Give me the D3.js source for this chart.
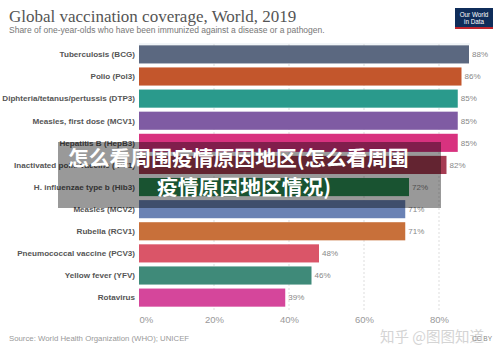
<!DOCTYPE html>
<html>
<head>
<meta charset="utf-8">
<script src="https://cdn.jsdelivr.net/npm/d3@7"></script>
<style>
body{margin:0;background:#fff;}
svg{display:block;}
</style>
</head>
<body>
<div id="chart"></div>
<script>
//data
let vaccines = ["Tuberculosis (BCG)", "Polio (Pol3)", "Diphteria/tetanus/pertussis (DTP3)", "Measles, first dose (MCV1)",
	"Hepatitis B (HepB3)", "Inactivated polio vaccine (IPV1)", "H. influenzae type b (Hib3)", "Measles (MCV2)",
	"Rubella (RCV1)", "Pneumococcal vaccine (PCV3)", "Yellow fever (YFV)", "Rotavirus"];
let coverage = [88, 86, 85, 85, 85, 82, 72, 71, 71, 48, 46, 39];
let barColors = ["#5b6880", "#c3562c", "#2a9a8c", "#7f5ba3", "#d8327f", "#a53c52", "#2a8a52", "#6a82b4",
	"#c8703a", "#da5568", "#3f8a79", "#d5469b"];
let ticks = [0, 20, 40, 60, 80];

function graph(){
	let width = 500, height = 352;
	let margin = {top:44, left:139, bottom:42};

	let svg = d3.select("#chart").append("svg")
		.attr("width", width)
		.attr("height", height);

	//title
	svg.append("text")
		.attr("x", 9).attr("y", 22)
		.attr("font-family", "Liberation Serif, serif")
		.attr("font-size", 17)
		.attr("fill", "#555")
		.text("Global vaccination coverage, World, 2019");
	svg.append("text")
		.attr("x", 9).attr("y", 33)
		.attr("font-family", "Liberation Sans, Arial, sans-serif")
		.attr("font-size", 8.5)
		.attr("fill", "#777")
		.text("Share of one-year-olds who have been immunized against a disease or a pathogen.");

	//logo
	let logo = svg.append("g").attr("transform", "translate(455,8)");
	logo.append("rect").attr("width", 38).attr("height", 21).attr("fill", "#0f2d5a");
	logo.append("rect").attr("y", 19).attr("width", 38).attr("height", 2).attr("fill", "#c0262d");
	logo.selectAll("text").data(["Our World", "in Data"]).enter().append("text")
		.attr("x", 19).attr("y", (d, i) => 8.5 + i * 7)
		.attr("text-anchor", "middle")
		.attr("font-family", "Liberation Sans, Arial, sans-serif")
		.attr("font-size", 6.3)
		.attr("fill", "#fff")
		.text(d => d);

	//scales
	const xScale = d3.scaleLinear()
		.domain([0, 80])
		.range([margin.left, margin.left + 300]);

	const yScale = d3.scaleBand()
		.domain(vaccines)
		.range([margin.top, margin.top + 22 * vaccines.length])
		.paddingInner(0.18)
		.paddingOuter(0.06);

	//grid
	svg.append("line")
		.attr("x1", margin.left).attr("x2", 470)
		.attr("y1", margin.top).attr("y2", margin.top)
		.attr("stroke", "#e4ebf0");
	svg.selectAll(".grid").data(ticks.slice(1)).enter().append("line")
		.attr("class", "grid")
		.attr("x1", d => xScale(d)).attr("x2", d => xScale(d))
		.attr("y1", margin.top).attr("y2", height - margin.bottom)
		.attr("stroke", "#ddd")
		.attr("stroke-dasharray", "2,2");

	//x axis
	const xAxis = d3.axisBottom(xScale)
		.tickValues(ticks)
		.tickFormat(d => d + "%")
		.tickSize(0);
	let ax = svg.append("g")
		.attr("transform", `translate(0,${height - margin.bottom})`)
		.call(xAxis);
	ax.select(".domain").remove();
	ax.selectAll("text")
		.attr("y", 6)
		.attr("font-family", "Liberation Sans, Arial, sans-serif")
		.attr("font-size", 9.5)
		.attr("fill", "#999")
		.attr("text-anchor", d => d === 0 ? "start" : "middle");

	//bars
	let rows = svg.selectAll(".row").data(vaccines).enter().append("g").attr("class", "row");
	rows.append("rect")
		.attr("x", xScale(0))
		.attr("y", d => yScale(d))
		.attr("height", yScale.bandwidth())
		.attr("width", (d, i) => xScale(coverage[i]) - xScale(0))
		.attr("fill", (d, i) => barColors[i]);
	rows.append("text")
		.attr("x", margin.left - 4)
		.attr("y", d => yScale(d) + yScale.bandwidth() / 2)
		.attr("dy", "0.35em")
		.attr("text-anchor", "end")
		.attr("font-family", "Liberation Sans, Arial, sans-serif")
		.attr("font-size", 8.1)
		.attr("font-weight", "bold")
		.attr("fill", "#555")
		.text(d => d);
	rows.append("text")
		.attr("x", (d, i) => xScale(coverage[i]) + 3)
		.attr("y", d => yScale(d) + yScale.bandwidth() / 2)
		.attr("dy", "0.35em")
		.attr("font-family", "Liberation Sans, Arial, sans-serif")
		.attr("font-size", 8)
		.attr("fill", "#888")
		.text((d, i) => coverage[i] + "%");

	//footer
	svg.append("text")
		.attr("x", 9).attr("y", 341)
		.attr("font-family", "Liberation Sans, Arial, sans-serif")
		.attr("font-size", 7.8)
		.attr("fill", "#999")
		.text("Source: World Health Organization (WHO); UNICEF");
	svg.append("text")
		.attr("x", 380).attr("y", 342)
		.attr("font-family", "Noto Sans CJK SC, sans-serif")
		.attr("font-size", 14.5)
		.attr("fill", "#d4d4d4")
		.text("知乎 @图图知道");
	svg.append("text")
		.attr("x", 492).attr("y", 341)
		.attr("text-anchor", "end")
		.attr("font-family", "Liberation Sans, Arial, sans-serif")
		.attr("font-size", 6.5)
		.attr("fill", "#888")
		.text("CC BY");

	//overlay caption
	svg.append("rect")
		.attr("x", 58).attr("y", 142)
		.attr("width", 383).attr("height", 66)
		.attr("fill", "#000")
		.attr("opacity", 0.4);
	svg.selectAll(".cap").data(["怎么看周围疫情原因地区(怎么看周围", "疫情原因地区情况)"]).enter().append("text")
		.attr("class", "cap")
		.attr("x", (d, i) => i === 0 ? 68 : 157)
		.attr("y", (d, i) => 166 + i * 29)
		.attr("font-family", "Noto Sans CJK SC, sans-serif")
		.attr("font-size", 20.8)
		.attr("font-weight", "bold")
		.attr("fill", "#fff")
		.text(d => d);
}

graph();
</script>
</body>
</html>
